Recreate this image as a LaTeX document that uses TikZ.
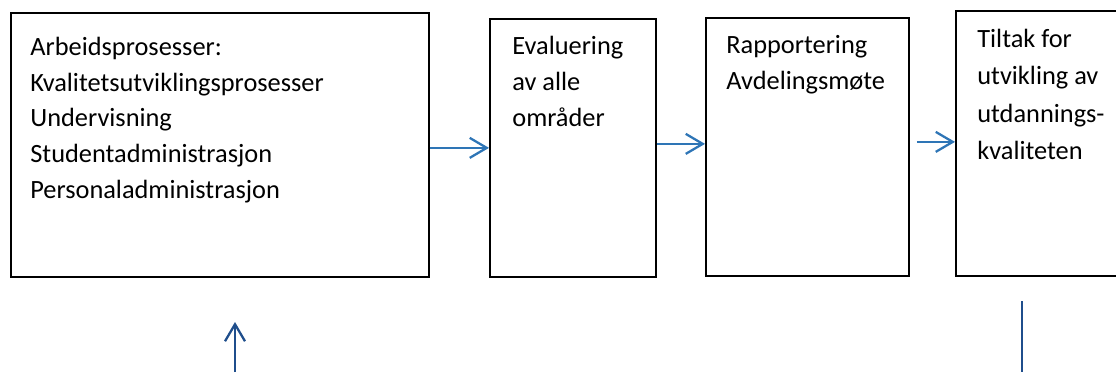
\documentclass[tikz,border=0pt]{standalone}
\usepackage{fontspec}
\setmainfont{Carlito}
\usepackage{tikz}
\usetikzlibrary{arrows.meta}
\usetikzlibrary{positioning}
\usetikzlibrary{calc}
\definecolor{flowblue}{RGB}{46,117,182}
\definecolor{backblue}{RGB}{31,78,140}
\tikzset{
  blk_b/.style = {rectangle, draw=black, line width=1pt, inner sep=0pt,
    anchor=north west},% blokk, ramme
  blk_t/.style = {anchor=north west, align=left, inner sep=0pt,
    font=\fontsize{15}{20.4}\selectfont},% blokk, tekst
  flw_a/.style = {-{Straight Barb[length=3.4mm,width=4mm]}, draw=flowblue,
    line width=1.3pt},% pil, blå
  bck_l/.style = {draw=backblue, line width=1.3pt}% linje, mørk blå
}

\begin{document}
\begin{tikzpicture}
\clip (0,0) rectangle (22.32,7.44);
\useasboundingbox (0,0) rectangle (22.32,7.44);

\node [blk_b, minimum width=8.36cm, minimum height=5.28cm] (arb) at (0.2,7.2) {};
\node [blk_b, minimum width=3.32cm, minimum height=5.16cm] (eval) at (9.78,7.08) {};
\node [blk_b, minimum width=4.06cm, minimum height=5.16cm] (rapp) at (14.1,7.1) {};
\node [blk_b, minimum width=3.8cm, minimum height=5.3cm] (tilt) at (19.1,7.24) {};

\node [blk_t] (arb_t) at ([xshift=0.4cm,yshift=-0.49cm]arb.north west)
  {Arbeidsprosesser:\\ Kvalitetsutviklingsprosesser\\ Undervisning\\
   Studentadministrasjon\\ Personaladministrasjon};
\node [blk_t] (eval_t) at ([xshift=0.46cm,yshift=-0.36cm]eval.north west)
  {Evaluering\\ av alle\\ områder};
\node [blk_t] (rapp_t) at ([xshift=0.42cm,yshift=-0.36cm]rapp.north west)
  {Rapportering\\ Avdelingsmøte};
\node [blk_t, font=\fontsize{15}{21.4}\selectfont] (tilt_t)
  at ([xshift=0.44cm,yshift=-0.37cm]tilt.north west)
  {Tiltak for\\ utvikling av\\ utdannings-\\ kvaliteten};

\draw[flw_a] ([yshift=-0.06cm]arb.east) -- ([yshift=-0.06cm]arb.east -| eval.west);
\draw[flw_a] ([yshift=0.08cm]eval.east) -- ([yshift=0.08cm]eval.east -| rapp.west);
\draw[flw_a] ([xshift=0.14cm,yshift=0.1cm]rapp.east) -- ([yshift=0.1cm]rapp.east -| tilt.west);

\coordinate (ret_s) at (4.7,0);
\coordinate (ret_e) at (4.7,1.0);
\draw[flw_a, draw=backblue] (ret_s) -- (ret_e);

\coordinate (ned_s) at (20.44,1.42);
\coordinate (ned_e) at (20.44,0);
\draw[bck_l] (ned_s) -- (ned_e);
\end{tikzpicture}
\end{document}
